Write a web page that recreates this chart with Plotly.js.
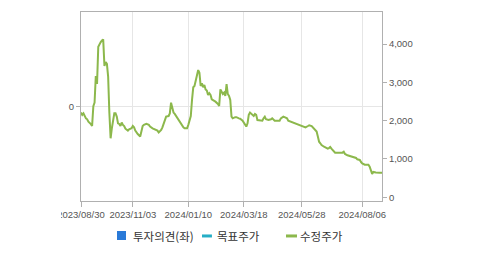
<!DOCTYPE html>
<html>
<head>
<meta charset="utf-8">
<script src="https://cdn.plot.ly/plotly-3.0.1.min.js"></script>
<style>
  html, body { margin: 0; padding: 0; background: #fff; }
  #chart { width: 479px; height: 255px; }
</style>
</head>
<body>
<div id="chart"></div>
<script>
// ---- data ----
const dates = [
  '2023-08-30','2023-08-31',
  '2023-09-01','2023-09-04','2023-09-05','2023-09-06','2023-09-07','2023-09-11','2023-09-12','2023-09-13','2023-09-14','2023-09-15','2023-09-18','2023-09-19','2023-09-20','2023-09-21','2023-09-22','2023-09-25','2023-09-26','2023-09-27',
  '2023-10-04','2023-10-05','2023-10-06','2023-10-10','2023-10-11','2023-10-12','2023-10-13','2023-10-16','2023-10-17','2023-10-18','2023-10-19','2023-10-20','2023-10-23','2023-10-24','2023-10-25','2023-10-26','2023-10-27','2023-10-30','2023-10-31',
  '2023-11-02','2023-11-03','2023-11-06','2023-11-07','2023-11-08','2023-11-09','2023-11-13','2023-11-14','2023-11-15','2023-11-16','2023-11-20','2023-11-22','2023-11-23','2023-11-27','2023-11-29',
  '2023-12-01','2023-12-04','2023-12-06','2023-12-07','2023-12-08','2023-12-11','2023-12-12','2023-12-14','2023-12-15','2023-12-18','2023-12-19','2023-12-20','2023-12-21','2023-12-22','2023-12-27','2023-12-28',
  '2024-01-02','2024-01-04','2024-01-05','2024-01-09','2024-01-10','2024-01-11','2024-01-12','2024-01-15','2024-01-16','2024-01-17','2024-01-18','2024-01-19','2024-01-22','2024-01-23','2024-01-24','2024-01-25','2024-01-26','2024-01-29','2024-01-30','2024-01-31',
  '2024-02-01','2024-02-02','2024-02-05','2024-02-06','2024-02-07','2024-02-08','2024-02-13','2024-02-15','2024-02-16','2024-02-19','2024-02-20','2024-02-21','2024-02-22','2024-02-23','2024-02-26','2024-02-27','2024-02-28','2024-02-29',
  '2024-03-04','2024-03-05','2024-03-07','2024-03-08','2024-03-12','2024-03-13','2024-03-15','2024-03-18','2024-03-19','2024-03-20','2024-03-21','2024-03-22','2024-03-25','2024-03-26','2024-03-27','2024-03-28','2024-03-29',
  '2024-04-01','2024-04-02','2024-04-04','2024-04-08','2024-04-09','2024-04-11','2024-04-12','2024-04-16','2024-04-18','2024-04-19','2024-04-23','2024-04-25','2024-04-29','2024-04-30',
  '2024-05-03','2024-05-07','2024-05-09','2024-05-10','2024-05-14','2024-05-17','2024-05-21','2024-05-23','2024-05-27','2024-05-28','2024-05-30','2024-05-31',
  '2024-06-04','2024-06-05','2024-06-10','2024-06-12','2024-06-13','2024-06-14','2024-06-17','2024-06-18','2024-06-19','2024-06-20','2024-06-24','2024-06-25','2024-06-27','2024-06-28',
  '2024-07-01','2024-07-02','2024-07-04','2024-07-05','2024-07-09','2024-07-11','2024-07-15','2024-07-16','2024-07-17','2024-07-19','2024-07-23','2024-07-25','2024-07-29','2024-07-30','2024-07-31',
  '2024-08-02','2024-08-05','2024-08-06','2024-08-08','2024-08-12','2024-08-13','2024-08-14','2024-08-16','2024-08-19','2024-08-20','2024-08-21','2024-08-22','2024-08-27','2024-08-29'
];
const adjustedPrice = [
  2210,2150,
  2190,2100,2060,2035,1975,1910,1860,2380,2470,3165,2960,3930,4000,4050,4090,4120,3430,3530,
  3480,3150,2200,1540,1800,1975,2190,2190,2105,1930,1915,1860,1950,1890,1860,1790,1760,1740,1775,
  1800,1860,1825,1740,1690,1650,1585,1715,1860,1890,1915,1890,1845,1800,1775,
  1740,1690,1755,1825,1915,2000,2105,2120,2190,2470,2365,2210,2175,2120,2035,1975,
  1905,1825,1800,1800,1890,2035,2120,2540,2870,2905,3060,3190,3320,3250,2905,2975,2870,2930,2815,2785,
  2670,2715,2670,2555,2540,2520,2495,2435,2385,2815,2730,2695,2730,2645,2955,2695,2645,2540,
  2105,2060,2090,2090,2060,2050,2000,1950,1890,1845,1930,2150,2210,2175,2150,2120,2175,
  2150,2015,2000,2000,2060,2105,2035,2015,2035,2060,2000,2000,2000,2060,
  2105,2090,2060,2000,1975,1950,1915,1895,1880,1860,1845,1825,
  1860,1880,1860,1790,1740,1715,1585,1450,1410,1365,1320,1305,1270,1285,
  1315,1270,1215,1165,1165,1175,1165,1190,1130,1095,1080,1060,1045,1025,990,
  975,920,885,850,860,850,800,670,610,660,645,645,640,640
];
const opinionDates = [];
const opinionValues = [];
const targetDates = [];
const targetValues = [];
const xTickVals = ['2023-08-30','2023-11-03','2024-01-10','2024-03-18','2024-05-28','2024-08-06'];
const xTickText = ['2023/08/30','2023/11/03','2024/01/10','2024/03/18','2024/05/28','2024/08/06'];
const rightTickVals = [0, 1000, 2000, 3000, 4000];
const leftTickVals = [0];
const seriesNames = ['투자의견(좌)', '목표주가', '수정주가'];
const marketHolidays = ['2023-09-28','2023-09-29','2023-10-02','2023-10-03','2023-10-09','2023-12-25','2023-12-29',
  '2024-01-01','2024-02-09','2024-02-12','2024-03-01','2024-04-10','2024-05-01','2024-05-06','2024-05-15','2024-06-06','2024-08-15'];

// ---- styles ----
const cBlue = '#2a7ad8', cTeal = '#26aec6', cGreen = '#8cb84c';
const tickFont = {family: '"Liberation Sans", Arial, sans-serif', size: 9.5, color: '#555555'};
const legFont = {family: '"Noto Sans CJK KR", sans-serif', size: 11.5, color: '#333333'};

const traces = [
  {type: 'bar', name: seriesNames[0], x: opinionDates, y: opinionValues, marker: {color: cBlue}, yaxis: 'y', showlegend: false},
  {type: 'scatter', mode: 'lines', name: seriesNames[1], x: targetDates, y: targetValues, line: {color: cTeal, width: 2}, yaxis: 'y2', showlegend: false},
  {type: 'scatter', mode: 'lines', name: seriesNames[2], x: dates, y: adjustedPrice, line: {color: cGreen, width: 2}, yaxis: 'y2', showlegend: false, hoverinfo: 'x+y'}
];

// legend drawn in paper coordinates
const legY = -0.185;
const shapes = [
  {type: 'rect', xref: 'paper', yref: 'paper', x0: -0.3, x1: -0.0664, y0: -0.012, y1: -0.12, fillcolor: '#ffffff', line: {width: 0}, layer: 'above'},
  {type: 'rect', xref: 'paper', yref: 'paper', x0: 0.1196, x1: 0.1495, y0: -0.1587, y1: -0.2063, fillcolor: cBlue, line: {width: 0}},
  {type: 'line', xref: 'paper', yref: 'paper', x0: 0.402, x1: 0.435, y0: legY, y1: legY, line: {color: cTeal, width: 3}},
  {type: 'line', xref: 'paper', yref: 'paper', x0: 0.681, x1: 0.7176, y0: legY, y1: legY, line: {color: cGreen, width: 3}}
];
const legX = [0.166, 0.445, 0.721];
const annotations = seriesNames.map((n, i) => ({
  text: n, xref: 'paper', yref: 'paper', x: legX[i], y: legY, xanchor: 'left', yanchor: 'middle',
  showarrow: false, font: legFont
}));

const layout = {
  width: 479, height: 255,
  margin: {l: 81, r: 97, t: 12, b: 54},
  paper_bgcolor: '#ffffff', plot_bgcolor: '#ffffff',
  showlegend: false,
  xaxis: {
    type: 'date',
    range: ['2023-08-30', '2024-08-29'],
    rangebreaks: [{bounds: ['sat', 'mon']}, {values: marketHolidays}],
    tickmode: 'array', tickvals: xTickVals, ticktext: xTickText, tickangle: 0,
    showgrid: true, gridcolor: '#e6e6e6', gridwidth: 1,
    showline: true, linecolor: '#b0b0b0', linewidth: 1, mirror: true,
    ticks: 'outside', ticklen: 5, tickcolor: '#b0b0b0',
    tickfont: tickFont, zeroline: false, fixedrange: true
  },
  yaxis: {
    range: [-1, 1], tickmode: 'array', tickvals: leftTickVals, ticktext: ['0'],
    showgrid: true, gridcolor: '#e6e6e6', zeroline: false,
    showline: true, linecolor: '#b0b0b0', linewidth: 1, mirror: true,
    ticks: 'outside', ticklen: 4, tickcolor: '#b0b0b0',
    tickfont: tickFont, fixedrange: true
  },
  yaxis2: {
    overlaying: 'y', side: 'right',
    range: [-97, 4835], tickmode: 'array', tickvals: rightTickVals, tickformat: ',d',
    showgrid: false, zeroline: false,
    showline: true, linecolor: '#b0b0b0', linewidth: 1,
    ticks: 'outside', ticklen: 4, tickcolor: '#b0b0b0',
    tickfont: tickFont, fixedrange: true
  },
  shapes: shapes,
  annotations: annotations
};

Plotly.newPlot('chart', traces, layout, {staticPlot: true, displayModeBar: false});
</script>
</body>
</html>
